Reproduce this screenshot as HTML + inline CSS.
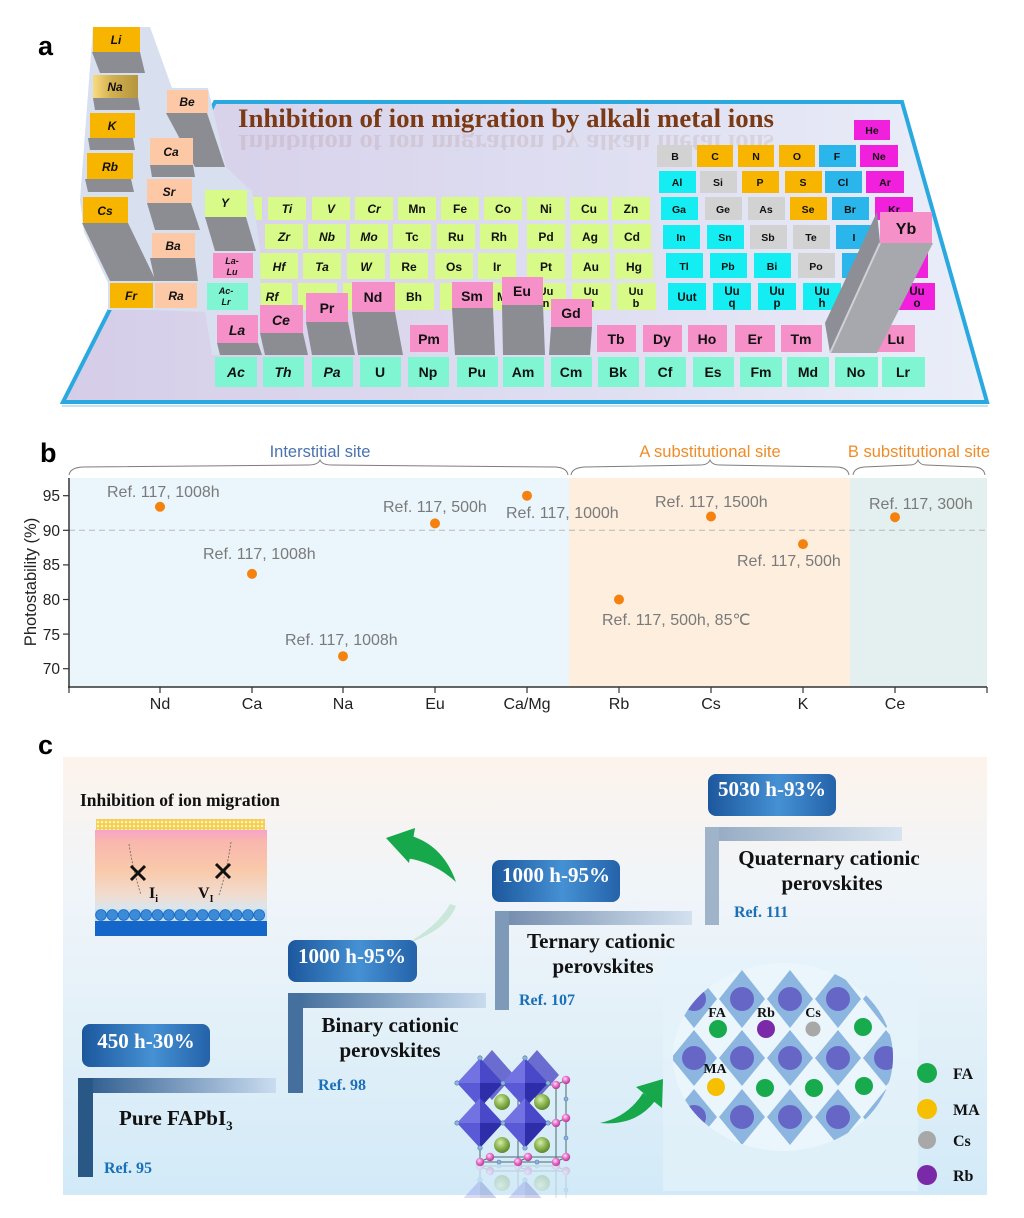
<!DOCTYPE html>
<html><head><meta charset="utf-8">
<style>html,body{margin:0;padding:0;background:#fff}svg{display:block}</style>
</head><body>
<svg width="1024" height="1218" viewBox="0 0 1024 1218" xmlns="http://www.w3.org/2000/svg">
<defs>
<linearGradient id="gBoard" x1="0" y1="0" x2="1" y2="0"><stop offset="0" stop-color="#d5cde8"/><stop offset="0.6" stop-color="#dfdff2"/><stop offset="1" stop-color="#eaeef9"/></linearGradient>
<linearGradient id="gNa" x1="0" y1="0" x2="1" y2="0"><stop offset="0" stop-color="#f9dc80"/><stop offset="0.4" stop-color="#d4b050"/><stop offset="1" stop-color="#b5953f"/></linearGradient>
<linearGradient id="gBg" x1="0" y1="0" x2="0" y2="1"><stop offset="0" stop-color="#fdf3ec"/><stop offset="0.3" stop-color="#f0f5f9"/><stop offset="1" stop-color="#d2eaf8"/></linearGradient>
<linearGradient id="gBox" x1="0" y1="0" x2="1" y2="0"><stop offset="0" stop-color="#1c579d"/><stop offset="0.55" stop-color="#4591d3"/><stop offset="1" stop-color="#2462a9"/></linearGradient>
<linearGradient id="gH1" x1="0" y1="0" x2="1" y2="0"><stop offset="0" stop-color="#28578a"/><stop offset="1" stop-color="#cadcf0"/></linearGradient>
<linearGradient id="gH2" x1="0" y1="0" x2="1" y2="0"><stop offset="0" stop-color="#3d6997"/><stop offset="1" stop-color="#c9dbee"/></linearGradient>
<linearGradient id="gH3" x1="0" y1="0" x2="1" y2="0"><stop offset="0" stop-color="#6f89aa"/><stop offset="1" stop-color="#d3e1ef"/></linearGradient>
<linearGradient id="gH4" x1="0" y1="0" x2="1" y2="0"><stop offset="0" stop-color="#93a9c1"/><stop offset="1" stop-color="#d7e3ef"/></linearGradient>
<linearGradient id="gDev" x1="0" y1="0" x2="0" y2="1"><stop offset="0" stop-color="#f7a2cb"/><stop offset="0.13" stop-color="#f9b6ae"/><stop offset="0.5" stop-color="#f9c9aa"/><stop offset="0.82" stop-color="#f1dccf"/><stop offset="1" stop-color="#d5e7f2"/></linearGradient>
<radialGradient id="gSph" cx="0.4" cy="0.35" r="0.65"><stop offset="0" stop-color="#d8ecb0"/><stop offset="0.5" stop-color="#93bb58"/><stop offset="1" stop-color="#5d8a2c"/></radialGradient>
<radialGradient id="gPink" cx="0.4" cy="0.35" r="0.65"><stop offset="0" stop-color="#ffe0f5"/><stop offset="0.5" stop-color="#e870c8"/><stop offset="1" stop-color="#b03a98"/></radialGradient>
<pattern id="dots" width="4" height="4" patternUnits="userSpaceOnUse"><rect width="4" height="4" fill="#f4cd4c"/><circle cx="2" cy="2" r="1.3" fill="#fff2b8"/></pattern>
<clipPath id="ell"><ellipse cx="783" cy="1057" rx="110" ry="94"/></clipPath>
<clipPath id="refclip"><rect x="440" y="1164" width="140" height="34"/></clipPath>
<clipPath id="titleref"><rect x="230" y="132" width="560" height="18"/></clipPath>
</defs>

<!-- ================= PANEL A ================= -->
<text x="38" y="55" font-family="Liberation Sans, sans-serif" font-weight="bold" font-size="27">a</text>

<polygon points="215,102 902,102 987,402 63,402" fill="url(#gBoard)" stroke="#2aa9e1" stroke-width="4"/>
<line x1="62" y1="406" x2="988" y2="406" stroke="#bfe4f5" stroke-width="2"/>

<text x="238" y="127" font-family="Liberation Serif, serif" font-weight="bold" font-size="26.5" fill="#7b3a14" textLength="536" lengthAdjust="spacingAndGlyphs">Inhibition of ion migration by alkali metal ions</text>
<g clip-path="url(#titleref)">
<text x="238" y="127" transform="translate(0,262) scale(1,-1)" font-family="Liberation Serif, serif" font-weight="bold" font-size="26.5" fill="#7b3a14" opacity="0.1" textLength="536" lengthAdjust="spacingAndGlyphs">Inhibition of ion migration by alkali metal ions</text>
</g>

<!-- transition metals -->
<g font-family="Liberation Sans, sans-serif" font-weight="bold" font-size="12" text-anchor="middle" fill="#111">
<g fill="#d8fa88">
<rect x="252" y="197" width="10" height="23"/>
<rect x="268" y="197" width="38" height="23"/><rect x="312" y="197" width="38" height="23"/><rect x="355" y="197" width="38" height="23"/><rect x="398" y="197" width="38" height="23"/><rect x="441" y="197" width="38" height="23"/><rect x="484" y="197" width="38" height="23"/><rect x="527" y="197" width="38" height="23"/><rect x="570" y="197" width="38" height="23"/><rect x="612" y="197" width="38" height="23"/>
<rect x="265" y="224" width="38" height="25"/><rect x="308" y="224" width="38" height="25"/><rect x="350" y="224" width="38" height="25"/><rect x="393" y="224" width="38" height="25"/><rect x="437" y="224" width="38" height="25"/><rect x="480" y="224" width="38" height="25"/><rect x="527" y="224" width="38" height="25"/><rect x="571" y="224" width="38" height="25"/><rect x="613" y="224" width="38" height="25"/>
<rect x="260" y="253" width="38" height="26"/><rect x="303" y="253" width="38" height="26"/><rect x="347" y="253" width="38" height="26"/><rect x="390" y="253" width="38" height="26"/><rect x="435" y="253" width="38" height="26"/><rect x="478" y="253" width="38" height="26"/><rect x="527" y="253" width="38" height="26"/><rect x="572" y="253" width="38" height="26"/><rect x="615" y="253" width="38" height="26"/>
<rect x="253" y="283" width="39" height="27"/><rect x="298" y="283" width="39" height="27"/><rect x="343" y="283" width="39" height="27"/><rect x="395" y="283" width="39" height="27"/><rect x="440" y="283" width="39" height="27"/><rect x="485" y="283" width="39" height="27"/><rect x="527" y="283" width="39" height="27"/><rect x="572" y="283" width="39" height="27"/><rect x="617" y="283" width="39" height="27"/>
</g>
<g font-style="italic"><text x="287" y="213">Ti</text><text x="331" y="213">V</text><text x="374" y="213">Cr</text>
<text x="284" y="241">Zr</text><text x="327" y="241">Nb</text><text x="369" y="241">Mo</text>
<text x="279" y="271">Hf</text><text x="322" y="271">Ta</text><text x="366" y="271">W</text><text x="272" y="301">Rf</text></g>
<text x="417" y="213">Mn</text><text x="460" y="213">Fe</text><text x="503" y="213">Co</text><text x="546" y="213">Ni</text><text x="589" y="213">Cu</text><text x="631" y="213">Zn</text>
<text x="412" y="241">Tc</text><text x="456" y="241">Ru</text><text x="499" y="241">Rh</text><text x="546" y="241">Pd</text><text x="590" y="241">Ag</text><text x="632" y="241">Cd</text>
<text x="409" y="271">Re</text><text x="454" y="271">Os</text><text x="497" y="271">Ir</text><text x="546" y="271">Pt</text><text x="591" y="271">Au</text><text x="634" y="271">Hg</text>
<text x="414" y="301">Bh</text><text x="459" y="301">Hs</text><text x="504" y="301">Mt</text>
<g font-size="11"><text x="546" y="295">Uu</text><text x="546" y="307">n</text><text x="591" y="295">Uu</text><text x="591" y="307">u</text><text x="636" y="295">Uu</text><text x="636" y="307">b</text></g>
</g>

<!-- p-block -->
<g font-family="Liberation Sans, sans-serif" font-weight="bold" font-size="10.5" text-anchor="middle" fill="#111">
<rect x="854" y="120" width="36" height="20" fill="#f020dc"/><text x="872" y="134">He</text>
<rect x="657" y="145" width="35" height="22" fill="#d2d2d2"/><rect x="697" y="145" width="36" height="22" fill="#f7b500"/><rect x="738" y="145" width="36" height="22" fill="#f7b500"/><rect x="779" y="145" width="36" height="22" fill="#f7b500"/><rect x="819" y="145" width="37" height="22" fill="#2ab6ea"/><rect x="860" y="145" width="38" height="22" fill="#f020dc"/>
<text x="675" y="160">B</text><text x="715" y="160">C</text><text x="756" y="160">N</text><text x="797" y="160">O</text><text x="837" y="160">F</text><text x="879" y="160">Ne</text>
<rect x="659" y="171" width="37" height="22" fill="#14eef2"/><rect x="700" y="171" width="37" height="22" fill="#d2d2d2"/><rect x="742" y="171" width="37" height="22" fill="#f7b500"/><rect x="785" y="171" width="37" height="22" fill="#f7b500"/><rect x="825" y="171" width="37" height="22" fill="#2ab6ea"/><rect x="866" y="171" width="38" height="22" fill="#f020dc"/>
<text x="677" y="186">Al</text><text x="718" y="186">Si</text><text x="760" y="186">P</text><text x="803" y="186">S</text><text x="843" y="186">Cl</text><text x="885" y="186">Ar</text>
<rect x="661" y="197" width="37" height="23" fill="#14eef2"/><rect x="705" y="197" width="37" height="23" fill="#d2d2d2"/><rect x="748" y="197" width="37" height="23" fill="#d2d2d2"/><rect x="790" y="197" width="37" height="23" fill="#f7b500"/><rect x="832" y="197" width="37" height="23" fill="#2ab6ea"/><rect x="875" y="197" width="38" height="23" fill="#f020dc"/>
<text x="679" y="213">Ga</text><text x="723" y="213">Ge</text><text x="766" y="213">As</text><text x="808" y="213">Se</text><text x="850" y="213">Br</text><text x="894" y="213">Kr</text>
<rect x="663" y="225" width="37" height="24" fill="#14eef2"/><rect x="707" y="225" width="37" height="24" fill="#14eef2"/><rect x="750" y="225" width="37" height="24" fill="#d2d2d2"/><rect x="793" y="225" width="37" height="24" fill="#d2d2d2"/><rect x="836" y="225" width="37" height="24" fill="#2ab6ea"/><rect x="882" y="225" width="38" height="24" fill="#f020dc"/>
<text x="681" y="241">In</text><text x="725" y="241">Sn</text><text x="768" y="241">Sb</text><text x="811" y="241">Te</text><text x="854" y="241">I</text>
<rect x="666" y="253" width="37" height="25" fill="#14eef2"/><rect x="710" y="253" width="37" height="25" fill="#14eef2"/><rect x="754" y="253" width="37" height="25" fill="#14eef2"/><rect x="798" y="253" width="37" height="25" fill="#d2d2d2"/><rect x="842" y="253" width="37" height="25" fill="#2ab6ea"/><rect x="890" y="253" width="38" height="25" fill="#f020dc"/>
<text x="684" y="270">Tl</text><text x="728" y="270">Pb</text><text x="772" y="270">Bi</text><text x="816" y="270">Po</text>
<rect x="668" y="283" width="38" height="27" fill="#14eef2"/><rect x="713" y="283" width="38" height="27" fill="#14eef2"/><rect x="758" y="283" width="38" height="27" fill="#14eef2"/><rect x="803" y="283" width="38" height="27" fill="#14eef2"/><rect x="848" y="283" width="38" height="27" fill="#2ab6ea"/><rect x="897" y="283" width="38" height="27" fill="#f020dc"/>
<g font-size="11.5"><text x="687" y="301">Uut</text><text x="732" y="295">Uu</text><text x="732" y="307">q</text><text x="777" y="295">Uu</text><text x="777" y="307">p</text><text x="822" y="295">Uu</text><text x="822" y="307">h</text><text x="917" y="295">Uu</text><text x="917" y="307">o</text></g>
</g>

<!-- left columns -->
<polygon points="93,27 150,27 172,88 208,88 226,167 248,188 252,190 260,250 262,355 212,355 205,312 153,310 108,310 108,283 84,232 80,200" fill="#d8dfee"/>
<g fill="#8c8c93">
<polygon points="92,52 140,52 145,73 100,73"/>
<polygon points="93,98 138,98 140,110 95,110"/>
<polygon points="88,138 133,138 135,150 90,150"/>
<polygon points="85,179 131,179 134,192 88,192"/>
<polygon points="82,223 128,223 156,281 110,281"/>
<polygon points="166,113 207,113 225,167 195,167"/>
<polygon points="150,165 193,165 195,177 152,177"/>
<polygon points="147,203 191,203 200,230 155,230"/>
<polygon points="150,258 195,258 198,281 155,281"/>
<polygon points="205,217 246,217 256,251 215,251"/>
</g>
<g font-family="Liberation Sans, sans-serif" font-weight="bold" font-style="italic" font-size="12" text-anchor="middle" fill="#111">
<rect x="93" y="27" width="47" height="25" fill="#f7b500"/><text x="116" y="44">Li</text>
<rect x="93" y="75" width="45" height="23" fill="url(#gNa)"/><text x="115" y="91">Na</text>
<rect x="90" y="113" width="45" height="25" fill="#f7b500"/><text x="112" y="130">K</text>
<rect x="87" y="153" width="46" height="26" fill="#f7b500"/><text x="110" y="171">Rb</text>
<rect x="83" y="197" width="45" height="26" fill="#f7b500"/><text x="105" y="215">Cs</text>
<rect x="110" y="283" width="43" height="25" fill="#f7b500"/><text x="131" y="300">Fr</text>
<rect x="167" y="90" width="41" height="23" fill="#fcc8a6"/><text x="187" y="106">Be</text>
<rect x="150" y="138" width="43" height="27" fill="#fcc8a6"/><text x="171" y="156">Ca</text>
<rect x="147" y="179" width="45" height="24" fill="#fcc8a6"/><text x="169" y="196">Sr</text>
<rect x="152" y="233" width="43" height="25" fill="#fcc8a6"/><text x="173" y="250">Ba</text>
<rect x="155" y="283" width="42" height="25" fill="#fcc8a6"/><text x="176" y="300">Ra</text>
<rect x="205" y="190" width="42" height="27" fill="#d8fa88"/><text x="225" y="207">Y</text>
<rect x="213" y="253" width="40" height="25" fill="#f590c8"/><text x="232" y="264" font-size="9">La-</text><text x="232" y="275" font-size="9">Lu</text>
<rect x="207" y="283" width="41" height="27" fill="#7ff5d2"/><text x="226" y="294" font-size="9">Ac-</text><text x="226" y="305" font-size="9">Lr</text>
</g>

<!-- lanthanides -->
<g fill="#8c8c93">
<polygon points="217,343 258,343 262,355 220,355"/>
<polygon points="260,333 303,333 308,355 265,355"/>
<polygon points="306,322 348,322 355,355 312,355"/>
<polygon points="352,312 395,312 403,355 358,355"/>
<polygon points="452,308 493,308 495,355 455,355"/>
<polygon points="502,305 543,305 545,355 503,355"/>
<polygon points="551,327 592,327 590,355 549,355"/>
</g>
<g font-family="Liberation Sans, sans-serif" font-weight="bold" font-size="14" text-anchor="middle" fill="#111">
<rect x="217" y="315" width="41" height="28" fill="#f590c8"/><text x="237" y="335" font-style="italic">La</text>
<rect x="260" y="305" width="43" height="28" fill="#f590c8"/><text x="281" y="325" font-style="italic">Ce</text>
<rect x="306" y="293" width="42" height="29" fill="#f590c8"/><text x="327" y="313">Pr</text>
<rect x="352" y="282" width="43" height="30" fill="#f590c8"/><text x="373" y="302">Nd</text>
<rect x="410" y="325" width="38" height="27" fill="#f590c8"/><text x="429" y="344">Pm</text>
<rect x="452" y="282" width="41" height="26" fill="#f590c8"/><text x="472" y="301">Sm</text>
<rect x="502" y="277" width="41" height="28" fill="#f590c8"/><text x="522" y="296">Eu</text>
<rect x="551" y="299" width="41" height="28" fill="#f590c8"/><text x="571" y="318">Gd</text>
<rect x="597" y="325" width="39" height="27" fill="#f590c8"/><text x="616" y="344">Tb</text>
<rect x="643" y="325" width="39" height="27" fill="#f590c8"/><text x="662" y="344">Dy</text>
<rect x="688" y="325" width="39" height="27" fill="#f590c8"/><text x="707" y="344">Ho</text>
<rect x="735" y="325" width="40" height="27" fill="#f590c8"/><text x="755" y="344">Er</text>
<rect x="781" y="325" width="41" height="27" fill="#f590c8"/><text x="801" y="344">Tm</text>
<rect x="877" y="325" width="38" height="27" fill="#f590c8"/><text x="896" y="344">Lu</text>
</g>
<!-- Yb bar -->
<polygon points="877,212 880,243 830,353 825,323" fill="#8e8e96"/>
<polygon points="880,243 933,243 877,353 830,353" fill="#a7a7ae"/>
<line x1="880" y1="243" x2="830" y2="353" stroke="#d0d0d6" stroke-width="2"/>
<rect x="880" y="212" width="52" height="31" fill="#f590c8"/>
<text x="906" y="234" font-family="Liberation Sans, sans-serif" font-weight="bold" font-size="16" text-anchor="middle" fill="#111">Yb</text>

<!-- actinides -->
<g font-family="Liberation Sans, sans-serif" font-weight="bold" font-size="14" text-anchor="middle" fill="#111">
<g fill="#7ff5d2">
<rect x="215" y="357" width="42" height="30"/><rect x="263" y="357" width="41" height="30"/><rect x="312" y="357" width="41" height="30"/><rect x="360" y="357" width="41" height="30"/><rect x="408" y="357" width="41" height="30"/><rect x="457" y="357" width="41" height="30"/><rect x="503" y="357" width="41" height="30"/><rect x="551" y="357" width="41" height="30"/><rect x="598" y="357" width="41" height="30"/><rect x="645" y="357" width="41" height="30"/><rect x="693" y="357" width="41" height="30"/><rect x="740" y="357" width="42" height="30"/><rect x="787" y="357" width="42" height="30"/><rect x="835" y="357" width="43" height="30"/><rect x="882" y="357" width="43" height="30"/>
</g>
<g font-style="italic"><text x="236" y="377">Ac</text><text x="283" y="377">Th</text><text x="332" y="377">Pa</text></g>
<text x="380" y="377">U</text><text x="428" y="377">Np</text><text x="477" y="377">Pu</text><text x="523" y="377">Am</text><text x="571" y="377">Cm</text><text x="618" y="377">Bk</text><text x="665" y="377">Cf</text><text x="713" y="377">Es</text><text x="761" y="377">Fm</text><text x="808" y="377">Md</text><text x="856" y="377">No</text><text x="903" y="377">Lr</text>
</g>

<!-- ================= PANEL B ================= -->
<text x="40" y="462" font-family="Liberation Sans, sans-serif" font-weight="bold" font-size="27">b</text>
<rect x="69" y="478" width="500" height="209" fill="#eaf6fc"/>
<rect x="569" y="478" width="281" height="209" fill="#fdeedd"/>
<rect x="850" y="478" width="137" height="209" fill="#e3f0ef"/>
<line x1="69" y1="530.3" x2="987" y2="530.3" stroke="#b8b8b8" stroke-width="1" stroke-dasharray="6,4"/>

<g fill="none" stroke="#7d7d7d" stroke-width="1">
<path d="M69,475 Q70,468 82,467 L308,465 Q318,465 320,460 Q322,465 332,465 L556,467 Q567,468 568,475"/>
<path d="M571,475 Q572,468 584,467 L700,465 Q708,465 710,460 Q712,465 720,465 L838,467 Q848,468 849,475"/>
<path d="M853,475 Q854,468 864,467 L910,465 Q916,465 918,460 Q920,465 926,465 L975,467 Q984,468 985,475"/>
</g>
<g font-family="Liberation Sans, sans-serif" font-size="16.5" text-anchor="middle">
<text x="320" y="457" fill="#4a72b0">Interstitial site</text>
<text x="710" y="457" fill="#f08c28">A substitutional site</text>
<text x="919" y="457" fill="#f08c28">B substitutional site</text>
</g>

<g stroke="#333" stroke-width="1.5">
<line x1="69" y1="478" x2="69" y2="688"/>
<line x1="68" y1="687" x2="987" y2="687"/>
</g>
<g stroke="#333" stroke-width="1.2">
<line x1="63" y1="495.7" x2="69" y2="495.7"/><line x1="63" y1="530.3" x2="69" y2="530.3"/><line x1="63" y1="564.9" x2="69" y2="564.9"/><line x1="63" y1="599.5" x2="69" y2="599.5"/><line x1="63" y1="634.1" x2="69" y2="634.1"/><line x1="63" y1="668.7" x2="69" y2="668.7"/>
<line x1="69" y1="687" x2="69" y2="693"/><line x1="160" y1="687" x2="160" y2="693"/><line x1="252" y1="687" x2="252" y2="693"/><line x1="343" y1="687" x2="343" y2="693"/><line x1="435" y1="687" x2="435" y2="693"/><line x1="527" y1="687" x2="527" y2="693"/><line x1="619" y1="687" x2="619" y2="693"/><line x1="711" y1="687" x2="711" y2="693"/><line x1="803" y1="687" x2="803" y2="693"/><line x1="895" y1="687" x2="895" y2="693"/><line x1="987" y1="687" x2="987" y2="693"/>
</g>
<g font-family="Liberation Sans, sans-serif" font-size="15.5" fill="#222" text-anchor="end">
<text x="60" y="501">95</text><text x="60" y="536">90</text><text x="60" y="570">85</text><text x="60" y="605">80</text><text x="60" y="640">75</text><text x="60" y="674">70</text>
</g>
<text x="36" y="582" transform="rotate(-90 36 582)" font-family="Liberation Sans, sans-serif" font-size="16.5" fill="#222" text-anchor="middle">Photostability (%)</text>
<g font-family="Liberation Sans, sans-serif" font-size="16" fill="#222" text-anchor="middle">
<text x="160" y="709">Nd</text><text x="252" y="709">Ca</text><text x="343" y="709">Na</text><text x="435" y="709">Eu</text><text x="527" y="709">Ca/Mg</text><text x="619" y="709">Rb</text><text x="711" y="709">Cs</text><text x="803" y="709">K</text><text x="895" y="709">Ce</text>
</g>
<g fill="#f5820f">
<circle cx="160" cy="506.8" r="5"/><circle cx="252" cy="573.9" r="5"/><circle cx="343" cy="656.2" r="5"/><circle cx="435" cy="523.4" r="5"/><circle cx="527" cy="495.7" r="5"/><circle cx="619" cy="599.5" r="5"/><circle cx="711" cy="516.5" r="5"/><circle cx="803" cy="544.1" r="5"/><circle cx="895" cy="517.2" r="5"/>
</g>
<g font-family="Liberation Sans, sans-serif" font-size="16" fill="#7a7a7a">
<text x="107" y="497">Ref. 117, 1008h</text>
<text x="203" y="559">Ref. 117, 1008h</text>
<text x="285" y="645">Ref. 117, 1008h</text>
<text x="383" y="512">Ref. 117, 500h</text>
<text x="506" y="518">Ref. 117, 1000h</text>
<text x="655" y="507">Ref. 117, 1500h</text>
<text x="737" y="566">Ref. 117, 500h</text>
<text x="602" y="625">Ref. 117, 500h, 85<tspan font-family="Liberation Serif, serif">℃</tspan></text>
<text x="869" y="509">Ref. 117, 300h</text>
</g>

<!-- ================= PANEL C ================= -->
<text x="38" y="754" font-family="Liberation Sans, sans-serif" font-weight="bold" font-size="27">c</text>
<rect x="63" y="757" width="924" height="438" fill="url(#gBg)"/>

<!-- device -->
<text x="80" y="806" font-family="Liberation Serif, serif" font-weight="bold" font-size="17.5" fill="#111">Inhibition of ion migration</text>
<rect x="96" y="819" width="169" height="11" fill="url(#dots)"/>
<rect x="95" y="830" width="172" height="80" fill="url(#gDev)"/>
<rect x="95" y="909" width="172" height="12" fill="#c5def0"/>
<g fill="#3b8bd8" stroke="#1d68bd" stroke-width="0.8">
<circle cx="101" cy="915" r="5.4"/><circle cx="112.3" cy="915" r="5.4"/><circle cx="123.6" cy="915" r="5.4"/><circle cx="134.9" cy="915" r="5.4"/><circle cx="146.2" cy="915" r="5.4"/><circle cx="157.5" cy="915" r="5.4"/><circle cx="168.8" cy="915" r="5.4"/><circle cx="180.1" cy="915" r="5.4"/><circle cx="191.4" cy="915" r="5.4"/><circle cx="202.7" cy="915" r="5.4"/><circle cx="214" cy="915" r="5.4"/><circle cx="225.3" cy="915" r="5.4"/><circle cx="236.6" cy="915" r="5.4"/><circle cx="247.9" cy="915" r="5.4"/><circle cx="259.2" cy="915" r="5.4"/>
</g>
<rect x="95" y="921" width="172" height="15" fill="#1466c8"/>
<g stroke="#666" stroke-width="0.8" stroke-dasharray="2,1.5" fill="none">
<path d="M129,844 Q133,870 141,895"/><path d="M231,842 Q227,870 219,895"/>
</g>
<g stroke="#111" stroke-width="3">
<line x1="131" y1="866" x2="145" y2="880"/><line x1="131" y1="880" x2="145" y2="866"/>
<line x1="216" y1="864" x2="230" y2="878"/><line x1="216" y1="878" x2="230" y2="864"/>
</g>
<g font-family="Liberation Serif, serif" font-weight="bold" font-size="16" fill="#111">
<text x="149" y="898">I<tspan font-size="10" dy="4">i</tspan></text>
<text x="198" y="898">V<tspan font-size="10" dy="4">I</tspan></text>
</g>

<!-- green arrows -->
<polygon points="386,838 415,828 409,863" fill="#16a84b"/>
<path d="M404,834 Q442,842 456,882 Q434,862 406,858 Z" fill="#16a84b"/>
<path d="M456,906 Q447,930 406,944 Q438,926 450,904 Z" fill="#9fd8b4" opacity="0.45"/>
<polygon points="663,1079 636,1087 662,1108" fill="#16a84b"/>
<path d="M600,1123 Q628,1117 643,1093 L655,1101 Q636,1126 600,1123 Z" fill="#16a84b"/>

<!-- steps -->
<rect x="78" y="1078" width="198" height="15" fill="url(#gH1)"/>
<rect x="78" y="1078" width="15" height="99" fill="#2a5886"/>
<rect x="288" y="993" width="198" height="15" fill="url(#gH2)"/>
<rect x="288" y="993" width="15" height="100" fill="#45709d"/>
<rect x="495" y="911" width="197" height="14" fill="url(#gH3)"/>
<rect x="495" y="911" width="14" height="99" fill="#7f99b8"/>
<rect x="705" y="827" width="197" height="14" fill="url(#gH4)"/>
<rect x="705" y="827" width="14" height="98" fill="#9fb3c9"/>

<!-- boxes -->
<g fill="url(#gBox)">
<rect x="82" y="1024" width="128" height="43" rx="8"/>
<rect x="288" y="940" width="129" height="42" rx="8"/>
<rect x="492" y="860" width="128" height="42" rx="8"/>
<rect x="708" y="774" width="128" height="42" rx="8"/>
</g>
<g font-family="Liberation Serif, serif" font-weight="bold" font-size="21" fill="#fff" text-anchor="middle">
<text x="146" y="1048">450 h-30%</text>
<text x="352" y="963">1000 h-95%</text>
<text x="556" y="882">1000 h-95%</text>
<text x="772" y="796">5030 h-93%</text>
</g>
<g font-family="Liberation Serif, serif" font-weight="bold" font-size="21" fill="#111" text-anchor="middle">
<text x="119" y="1125" text-anchor="start">Pure FAPbI<tspan font-size="13" dy="5">3</tspan></text>
<text x="390" y="1032">Binary cationic</text>
<text x="390" y="1057">perovskites</text>
<text x="601" y="948">Ternary cationic</text>
<text x="603" y="973">perovskites</text>
<text x="829" y="865">Quaternary cationic</text>
<text x="832" y="890">perovskites</text>
</g>
<g font-family="Liberation Serif, serif" font-weight="bold" font-size="16" fill="#1a70b8">
<text x="104" y="1173">Ref. 95</text>
<text x="318" y="1090">Ref. 98</text>
<text x="519" y="1005">Ref. 107</text>
<text x="734" y="917">Ref. 111</text>
</g>

<!-- crystal -->
<g id="cry">
<g opacity="0.85">
<polygon points="492,1050 514,1075 492,1100 470,1075" fill="#5656c8"/>
<polygon points="537,1050 559,1075 537,1100 515,1075" fill="#5656c8"/>
</g>
<g stroke="#4a6a70" stroke-width="1" fill="none">
<path d="M480,1162 L556,1162 L566,1157 M556,1162 L556,1085 L566,1080 L566,1157 M518,1162 L528,1157 M480,1162 L490,1157 L566,1157 M556,1123 L566,1118 M480,1085 L556,1085 M480,1123 L556,1123 M518,1085 L518,1162 M480,1085 L480,1162"/>
</g>
<circle cx="502" cy="1102" r="8" fill="url(#gSph)"/><circle cx="542" cy="1102" r="8" fill="url(#gSph)"/>
<circle cx="502" cy="1145" r="8" fill="url(#gSph)"/><circle cx="542" cy="1145" r="8" fill="url(#gSph)"/>
<g>
<polygon points="480,1058 480,1083 457,1083" fill="#7272e2"/><polygon points="480,1058 503,1083 480,1083" fill="#4848c8"/><polygon points="457,1083 480,1083 480,1108" fill="#5a5ad6"/><polygon points="480,1083 503,1083 480,1108" fill="#2e2eaa"/>
<polygon points="525,1058 525,1083 502,1083" fill="#7272e2"/><polygon points="525,1058 548,1083 525,1083" fill="#4848c8"/><polygon points="502,1083 525,1083 525,1108" fill="#5a5ad6"/><polygon points="525,1083 548,1083 525,1108" fill="#2e2eaa"/>
<polygon points="480,1098 480,1123 457,1123" fill="#7272e2"/><polygon points="480,1098 503,1123 480,1123" fill="#4848c8"/><polygon points="457,1123 480,1123 480,1148" fill="#5a5ad6"/><polygon points="480,1123 503,1123 480,1148" fill="#2e2eaa"/>
<polygon points="525,1098 525,1123 502,1123" fill="#7272e2"/><polygon points="525,1098 548,1123 525,1123" fill="#4848c8"/><polygon points="502,1123 525,1123 525,1148" fill="#5a5ad6"/><polygon points="525,1123 548,1123 525,1148" fill="#2e2eaa"/>
</g>
<g fill="#8fb3dd" stroke="#4a78b0" stroke-width="0.6">
<circle cx="480" cy="1058" r="2.2"/><circle cx="525" cy="1058" r="2.2"/><circle cx="457" cy="1083" r="2.2"/><circle cx="503" cy="1083" r="2.2"/><circle cx="548" cy="1083" r="2.2"/><circle cx="457" cy="1123" r="2.2"/><circle cx="503" cy="1123" r="2.2"/><circle cx="548" cy="1123" r="2.2"/><circle cx="480" cy="1148" r="2.2"/><circle cx="525" cy="1148" r="2.2"/><circle cx="566" cy="1099" r="2"/><circle cx="566" cy="1138" r="2"/><circle cx="499" cy="1162" r="2"/><circle cx="537" cy="1162" r="2"/>
</g>
<g fill="url(#gPink)">
<circle cx="556" cy="1085" r="4.2"/><circle cx="566" cy="1080" r="4.2"/><circle cx="556" cy="1123" r="4.2"/><circle cx="566" cy="1118" r="4.2"/><circle cx="556" cy="1162" r="4.2"/><circle cx="566" cy="1157" r="4.2"/><circle cx="480" cy="1162" r="4.2"/><circle cx="490" cy="1157" r="4.2"/><circle cx="518" cy="1162" r="4.2"/><circle cx="528" cy="1157" r="4.2"/>
</g>
</g>
<g clip-path="url(#refclip)" opacity="0.22"><use href="#cry" transform="translate(0,2328) scale(1,-1)"/></g>

<!-- diamond pattern -->
<rect x="663" y="955" width="255" height="236" fill="#e6f3fa" opacity="0.6"/>
<g clip-path="url(#ell)">
<ellipse cx="783" cy="1057" rx="110" ry="94" fill="#eaf6fc"/>
<g fill="#8cb6df">
<polygon points="646,970 669,999 646,1028 623,999"/><polygon points="694,970 717,999 694,1028 671,999"/><polygon points="742,970 765,999 742,1028 719,999"/><polygon points="790,970 813,999 790,1028 767,999"/><polygon points="838,970 861,999 838,1028 815,999"/><polygon points="886,970 909,999 886,1028 863,999"/>
<polygon points="646,1030 669,1058 646,1086 623,1058"/><polygon points="694,1030 717,1058 694,1086 671,1058"/><polygon points="742,1030 765,1058 742,1086 719,1058"/><polygon points="790,1030 813,1058 790,1086 767,1058"/><polygon points="838,1030 861,1058 838,1086 815,1058"/><polygon points="886,1030 909,1058 886,1086 863,1058"/>
<polygon points="646,1089 669,1117 646,1145 623,1117"/><polygon points="694,1089 717,1117 694,1145 671,1117"/><polygon points="742,1089 765,1117 742,1145 719,1117"/><polygon points="790,1089 813,1117 790,1145 767,1117"/><polygon points="838,1089 861,1117 838,1145 815,1117"/><polygon points="886,1089 909,1117 886,1145 863,1117"/>
</g>
<g fill="#6666c6">
<circle cx="694" cy="999" r="12"/><circle cx="742" cy="999" r="12"/><circle cx="790" cy="999" r="12"/><circle cx="838" cy="999" r="12"/><circle cx="886" cy="999" r="12"/>
<circle cx="694" cy="1058" r="12"/><circle cx="742" cy="1058" r="12"/><circle cx="790" cy="1058" r="12"/><circle cx="838" cy="1058" r="12"/><circle cx="886" cy="1058" r="12"/>
<circle cx="694" cy="1117" r="12"/><circle cx="742" cy="1117" r="12"/><circle cx="790" cy="1117" r="12"/><circle cx="838" cy="1117" r="12"/><circle cx="886" cy="1117" r="12"/>
</g>
</g>
<circle cx="718" cy="1029" r="9" fill="#17ab4e"/><circle cx="766" cy="1029" r="9" fill="#7a2aa8"/><circle cx="813" cy="1029" r="7.5" fill="#a8a8a8"/><circle cx="863" cy="1027" r="9" fill="#17ab4e"/>
<circle cx="716" cy="1087" r="9" fill="#f6bf00"/><circle cx="765" cy="1088" r="9" fill="#17ab4e"/><circle cx="814" cy="1088" r="9" fill="#17ab4e"/><circle cx="864" cy="1086" r="9" fill="#17ab4e"/>
<g font-family="Liberation Serif, serif" font-weight="bold" font-size="14" fill="#111" text-anchor="middle">
<text x="717" y="1017">FA</text><text x="766" y="1017">Rb</text><text x="813" y="1017">Cs</text><text x="715" y="1073">MA</text>
</g>

<!-- legend -->
<circle cx="927" cy="1073" r="10" fill="#17ab4e"/>
<circle cx="927" cy="1109" r="10" fill="#f6bf00"/>
<circle cx="927" cy="1140" r="9" fill="#a8a8a8"/>
<circle cx="927" cy="1175" r="10" fill="#7a2aa8"/>
<g font-family="Liberation Serif, serif" font-weight="bold" font-size="16" fill="#111">
<text x="953" y="1079">FA</text><text x="953" y="1115">MA</text><text x="953" y="1146">Cs</text><text x="953" y="1181">Rb</text>
</g>
</svg>
</body></html>
